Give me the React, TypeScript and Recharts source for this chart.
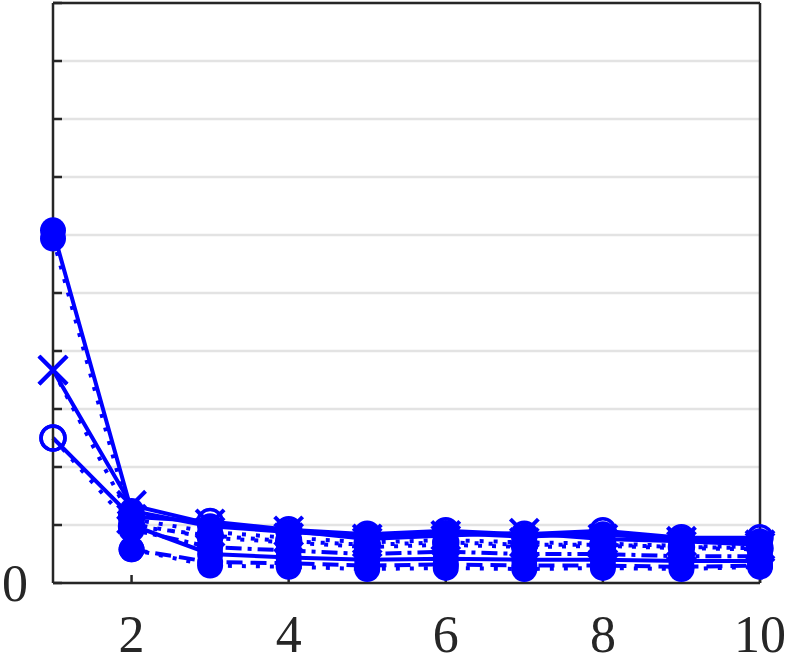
import React from "react";
import {
  LineChart,
  Line,
  XAxis,
  YAxis,
  CartesianGrid,
} from "recharts";

const xs = [1, 2, 3, 4, 5, 6, 7, 8, 9, 10];
const xTicks = [2, 4, 6, 8, 10];
const yTicks = [0, 1, 2, 3, 4, 5, 6, 7, 8, 9, 10];

// series values (one grid step = 1)
const fillSolid = [6.08, 1.24, 0.98, 0.88, 0.8, 0.86, 0.8, 0.84, 0.74, 0.72];
const crossSolid = [3.67, 1.34, 1.02, 0.9, 0.76, 0.82, 0.86, 0.76, 0.72, 0.66];
const ringSolid = [2.5, 1.14, 1.06, 0.92, 0.84, 0.9, 0.84, 0.9, 0.78, 0.78];
const fillDotted = [5.94, 1.02, 0.78, 0.7, 0.62, 0.66, 0.62, 0.64, 0.6, 0.58];
const crossDotted = [3.67, 1.1, 0.88, 0.78, 0.7, 0.74, 0.7, 0.68, 0.64, 0.62];
const ringDotted = [2.5, 0.98, 0.82, 0.72, 0.66, 0.7, 0.66, 0.66, 0.62, 0.6];
const lowSolid = [null, 1.0, 0.5, 0.44, 0.4, 0.42, 0.4, 0.4, 0.38, 0.38];
const lowDotted = [null, 0.58, 0.3, 0.28, 0.24, 0.26, 0.24, 0.26, 0.24, 0.28];
const lowDashed = [null, 0.58, 0.36, 0.34, 0.3, 0.32, 0.3, 0.3, 0.28, 0.3];
const lowDashDot = [null, 0.92, 0.62, 0.56, 0.5, 0.54, 0.5, 0.5, 0.46, 0.46];

const series = [
  { key: "fillSolid", values: fillSolid, marker: "fill", dash: undefined },
  { key: "crossSolid", values: crossSolid, marker: "cross", dash: undefined },
  { key: "ringSolid", values: ringSolid, marker: "ring", dash: undefined },
  { key: "fillDotted", values: fillDotted, marker: "fill", dash: "4 10" },
  { key: "crossDotted", values: crossDotted, marker: "cross", dash: "4 10" },
  { key: "ringDotted", values: ringDotted, marker: "ring", dash: "4 10" },
  { key: "lowSolid", values: lowSolid, marker: "fill", dash: undefined },
  { key: "lowDotted", values: lowDotted, marker: "fill", dash: "4 10" },
  { key: "lowDashed", values: lowDashed, marker: "fill", dash: "16 8" },
  { key: "lowDashDot", values: lowDashDot, marker: "fill", dash: "16 6 4 6" },
];

const data = xs.map((x, i) => {
  const row: Record<string, number | null> = { x };
  series.forEach((s) => {
    row[s.key] = s.values[i];
  });
  return row;
});

const BLUE = "#0000ff";
const AXIS = "#262626";

const makeDot = (marker: string) => (props: any) => {
  const { cx, cy, index, payload, dataKey } = props;
  const k = `${dataKey}-${index}`;
  if (cx == null || cy == null || payload?.[dataKey] == null) return <g key={k} />;
  if (marker === "fill") {
    return <circle key={k} cx={cx} cy={cy} r={13} fill={BLUE} stroke="none" />;
  }
  if (marker === "ring") {
    return (
      <circle key={k} cx={cx} cy={cy} r={12} fill="none" stroke={BLUE} strokeWidth={3.5} />
    );
  }
  const d = 14;
  return (
    <g key={k} stroke={BLUE} strokeWidth={4}>
      <line x1={cx - d} y1={cy - d} x2={cx + d} y2={cy + d} />
      <line x1={cx - d} y1={cy + d} x2={cx + d} y2={cy - d} />
    </g>
  );
};

const tickFont = { fontFamily: "Liberation Serif", fontSize: 52, fill: "#262626" };

export default function App() {
  return (
    <div style={{ position: "absolute", left: 0, top: 0, background: "#fff" }}>
      <LineChart
        width={790}
        height={664}
        data={data}
        margin={{ top: 0, right: 0, left: 0, bottom: 0 }}
      >
        <CartesianGrid
          vertical={false}
          stroke="#e3e3e3"
          strokeWidth={2.5}
          xAxisId="bottom"
          yAxisId="left"
        />
        <XAxis
          xAxisId="bottom"
          dataKey="x"
          type="number"
          domain={[1, 10]}
          ticks={xTicks}
          height={81}
          axisLine={{ stroke: AXIS, strokeWidth: 2.5 }}
          tickLine={{ stroke: AXIS, strokeWidth: 2.5 }}
          tickSize={-8}
          tickMargin={40}
          tick={tickFont}
          interval={0}
        />
        <XAxis
          xAxisId="top"
          orientation="top"
          dataKey="x"
          type="number"
          domain={[1, 10]}
          ticks={xTicks}
          height={3}
          axisLine={{ stroke: AXIS, strokeWidth: 2.5 }}
          tickLine={{ stroke: AXIS, strokeWidth: 2.5 }}
          tickSize={-8}
          tick={false}
        />
        <YAxis
          yAxisId="left"
          type="number"
          domain={[0, 10]}
          ticks={yTicks}
          width={53}
          axisLine={{ stroke: AXIS, strokeWidth: 2.5 }}
          tickLine={{ stroke: AXIS, strokeWidth: 2.5 }}
          tickSize={-9}
          tickMargin={34}
          tick={tickFont}
          tickFormatter={(v: number) => (v === 0 ? "0" : "")}
          interval={0}
        />
        <YAxis
          yAxisId="right"
          orientation="right"
          type="number"
          domain={[0, 10]}
          ticks={yTicks}
          width={30}
          axisLine={{ stroke: AXIS, strokeWidth: 2.5 }}
          tickLine={{ stroke: AXIS, strokeWidth: 2.5 }}
          tickSize={-9}
          tick={false}
        />
        {series.map((s) => (
          <Line
            key={s.key}
            xAxisId="bottom"
            yAxisId="left"
            type="linear"
            dataKey={s.key}
            stroke={BLUE}
            strokeWidth={4}
            strokeDasharray={s.dash}
            dot={makeDot(s.marker)}
            activeDot={false}
            isAnimationActive={false}
            connectNulls={false}
          />
        ))}
      </LineChart>
    </div>
  );
}
